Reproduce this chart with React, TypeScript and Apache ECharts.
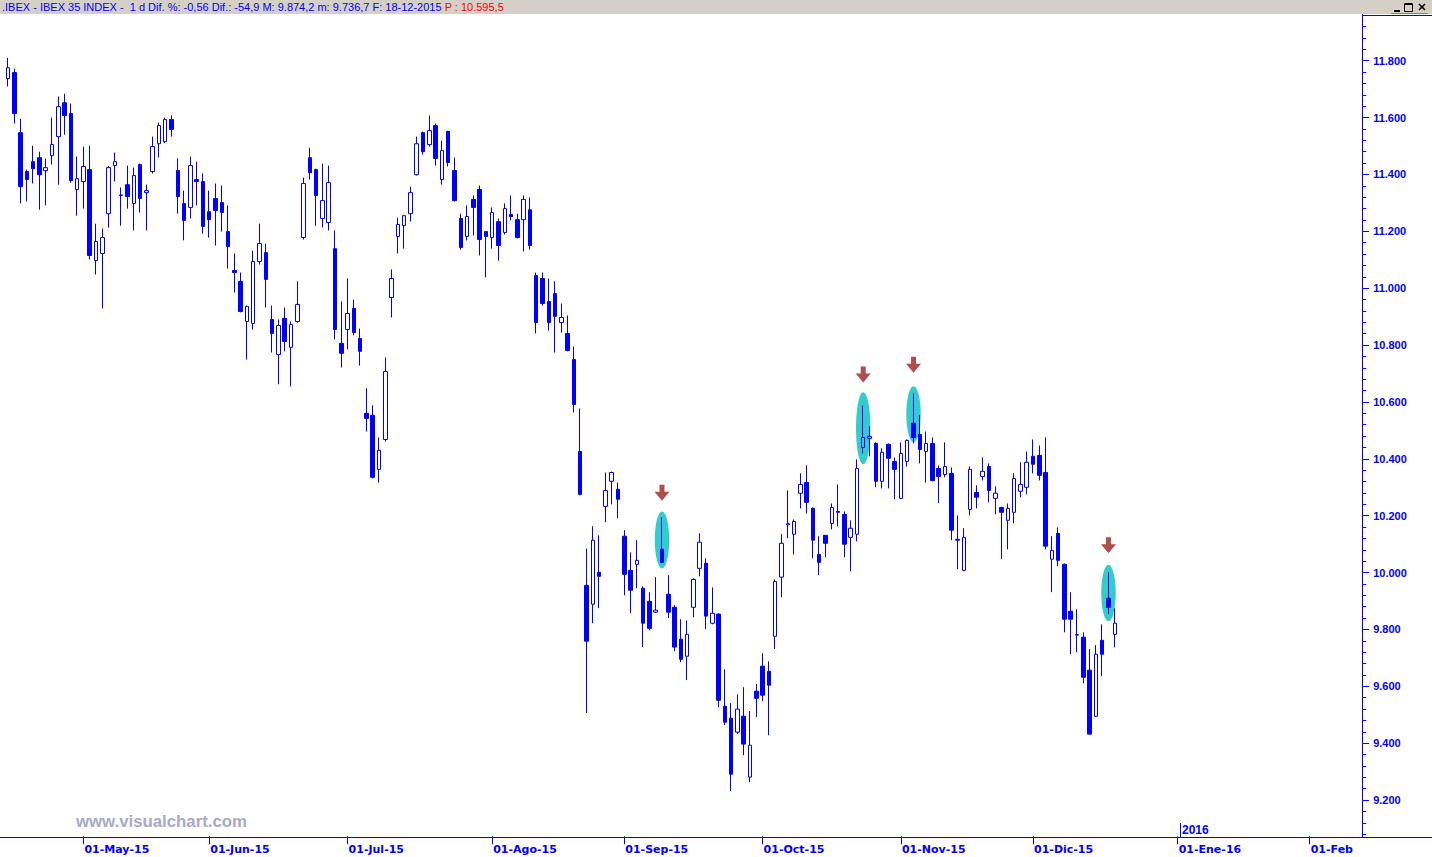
import { useEffect, useRef } from "react";
import * as echarts from "echarts";

const BLUE = "#0000FF";
const FONT = '"Liberation Sans", Arial, sans-serif';
const AXIS_FONT = '"DejaVu Sans", "Liberation Sans", Arial, sans-serif';

// Trading sessions on the axis: [year-month, days]
const SESSIONS: [string, number[]][] = [
  ["2015-04", [15, 16, 17, 20, 21, 22, 23, 24, 27, 28, 29, 30]],
  ["2015-05", [4, 5, 6, 7, 8, 11, 12, 13, 14, 15, 18, 19, 20, 21, 22, 25, 26, 27, 28, 29]],
  ["2015-06", [1, 2, 3, 4, 5, 8, 9, 10, 11, 12, 15, 16, 17, 18, 19, 22, 23, 24, 25, 26, 29, 30]],
  ["2015-07", [1, 2, 3, 6, 7, 8, 9, 10, 13, 14, 15, 16, 17, 20, 21, 22, 23, 24, 27, 28, 29, 30, 31]],
  ["2015-08", [3, 4, 5, 6, 7, 10, 11, 12, 13, 14, 17, 18, 19, 20, 21, 24, 25, 26, 27, 28, 31]],
  ["2015-09", [1, 2, 3, 4, 7, 8, 9, 10, 11, 14, 15, 16, 17, 18, 21, 22, 23, 24, 25, 28, 29, 30]],
  ["2015-10", [1, 2, 5, 6, 7, 8, 9, 12, 13, 14, 15, 16, 19, 20, 21, 22, 23, 26, 27, 28, 29, 30]],
  ["2015-11", [2, 3, 4, 5, 6, 9, 10, 11, 12, 13, 16, 17, 18, 19, 20, 23, 24, 25, 26, 27, 30]],
  ["2015-12", [1, 2, 3, 4, 7, 8, 9, 10, 11, 14, 15, 16, 17, 18, 21, 22, 23, 24, 25, 28, 29, 30, 31]],
  ["2016-01", [1, 4, 5, 6, 7, 8, 11, 12, 13, 14, 15, 18, 19, 20, 21, 22, 25, 26, 27, 28, 29]],
  ["2016-02", [1, 2, 3, 4, 5, 8, 9, 10, 11]],
];

// Month tick labels: [session, label]
const MONTH_LABELS: [string, string][] = [
  ["2015-05-04", "01-May-15"],
  ["2015-06-01", "01-Jun-15"],
  ["2015-07-01", "01-Jul-15"],
  ["2015-08-03", "01-Ago-15"],
  ["2015-09-01", "01-Sep-15"],
  ["2015-10-01", "01-Oct-15"],
  ["2015-11-02", "01-Nov-15"],
  ["2015-12-01", "01-Dic-15"],
  ["2016-01-01", "01-Ene-16"],
  ["2016-02-01", "01-Feb"],
];

// OHLC per month: [open, high, low, close]
const apr15 = [
  [11737, 11810, 11709, 11775], [11758, 11772, 11579, 11614], [11547, 11596, 11298, 11357],
  [11410, 11417, 11305, 11382], [11445, 11501, 11368, 11420], [11459, 11480, 11276, 11399],
  [11413, 11456, 11291, 11424], [11466, 11600, 11435, 11505], [11533, 11674, 11364, 11638],
  [11652, 11684, 11540, 11607], [11614, 11649, 11371, 11378], [11347, 11463, 11255, 11385],
];
const may15 = [
  [11375, 11498, 11280, 11428], [11417, 11501, 11101, 11115], [11097, 11227, 11048, 11164],
  [11122, 11210, 10929, 11178], [11262, 11430, 11213, 11424], [11431, 11477, 11375, 11445],
  [11326, 11354, 11220, 11328], [11364, 11431, 11280, 11322], [11298, 11424, 11203, 11396],
  [11435, 11438, 11266, 11315], [11336, 11364, 11203, 11343], [11410, 11533, 11403, 11498],
  [11508, 11582, 11459, 11572], [11515, 11600, 11510, 11593], [11593, 11607, 11533, 11558],
  [11414, 11456, 11262, 11322], [11298, 11343, 11168, 11238], [11284, 11463, 11245, 11431],
  [11382, 11445, 11291, 11375], [11375, 11403, 11192, 11217],
];
const jun15 = [
  [11269, 11343, 11178, 11241], [11315, 11368, 11150, 11273], [11301, 11361, 11199, 11266],
  [11199, 11291, 11069, 11146], [11062, 11122, 10985, 11055], [11024, 11055, 10915, 10918],
  [10883, 10939, 10749, 10936], [10876, 11132, 10855, 11094], [11094, 11227, 11083, 11157],
  [11125, 11157, 10932, 11031], [10890, 10939, 10774, 10841], [10767, 10890, 10662, 10869],
  [10894, 10932, 10778, 10813], [10792, 10883, 10655, 10872], [10883, 11024, 10879, 10943],
  [11178, 11389, 11171, 11368], [11459, 11494, 11382, 11406], [11417, 11420, 11220, 11326],
  [11245, 11438, 11213, 11308], [11231, 11431, 11203, 11371], [11139, 11203, 10820, 10855],
  [10806, 10953, 10721, 10771],
];
const jul15 = [
  [10855, 11034, 10785, 10911], [10929, 10960, 10834, 10844], [10823, 10858, 10728, 10778],
  [10560, 10648, 10496, 10542], [10553, 10588, 10331, 10335], [10363, 10475, 10317, 10430],
  [10468, 10756, 10461, 10707], [10967, 11066, 10897, 11034], [11182, 11248, 11122, 11224],
  [11220, 11258, 11139, 11255], [11262, 11357, 11234, 11336], [11399, 11533, 11396, 11508],
  [11547, 11551, 11470, 11480], [11505, 11607, 11498, 11554], [11572, 11579, 11431, 11456],
  [11382, 11519, 11364, 11484], [11551, 11554, 11428, 11442], [11414, 11459, 11305, 11308],
  [11245, 11262, 11136, 11143], [11182, 11291, 11168, 11252], [11312, 11326, 11185, 11284],
  [11347, 11361, 11115, 11171], [11199, 11199, 11038, 11182],
];
const aug15 = [
  [11178, 11284, 11139, 11266], [11234, 11245, 11097, 11150], [11196, 11298, 11189, 11280],
  [11259, 11326, 11238, 11252], [11241, 11262, 11175, 11178], [11241, 11326, 11129, 11312],
  [11276, 11319, 11136, 11150], [11045, 11055, 10841, 10879], [11034, 11055, 10939, 10946],
  [10953, 11034, 10851, 10879], [10981, 11024, 10774, 10901], [10879, 10946, 10844, 10897],
  [10841, 10904, 10778, 10781], [10749, 10795, 10563, 10591], [10426, 10577, 10272, 10275],
  [9955, 10085, 9506, 9759], [9889, 10163, 9822, 10114], [10001, 10131, 9875, 9987],
  [10233, 10352, 10177, 10289], [10321, 10355, 10240, 10352], [10293, 10317, 10191, 10258],
];
const sep15 = [
  [10128, 10149, 9920, 9994], [10008, 10071, 9857, 9938], [10029, 10114, 9945, 10043],
  [9945, 9952, 9738, 9822], [9899, 9931, 9797, 9804], [9861, 9984, 9858, 9868],
  [10082, 10194, 10033, 10036], [9924, 9991, 9840, 9861], [9878, 9885, 9724, 9738],
  [9766, 9836, 9685, 9695], [9706, 9832, 9622, 9783], [9878, 9980, 9843, 9976],
  [10015, 10138, 9987, 10107], [10033, 10050, 9801, 9847], [9822, 9948, 9818, 9857],
  [9854, 9857, 9527, 9551], [9530, 9660, 9464, 9474], [9488, 9541, 9232, 9291],
  [9439, 9572, 9432, 9520], [9495, 9597, 9358, 9397], [9281, 9513, 9263, 9393],
  [9583, 9608, 9492, 9558],
];
const oct15 = [
  [9671, 9716, 9548, 9569], [9653, 9688, 9428, 9604], [9776, 9976, 9731, 9969],
  [9984, 10135, 9913, 10103], [10168, 10289, 10121, 10172], [10135, 10187, 10064, 10180],
  [10279, 10349, 10226, 10310], [10317, 10377, 10208, 10247], [10226, 10229, 10050, 10114],
  [10064, 10128, 9991, 10036], [10131, 10131, 10054, 10103], [10173, 10243, 10152, 10229],
  [10215, 10310, 10163, 10212], [10205, 10215, 10054, 10100], [10124, 10184, 10005, 10156],
  [10135, 10398, 10110, 10366], [10440, 10588, 10419, 10475], [10472, 10514, 10409, 10479],
  [10454, 10458, 10300, 10321], [10321, 10437, 10296, 10423], [10451, 10454, 10296, 10402],
  [10391, 10405, 10258, 10363],
];
const nov15 = [
  [10261, 10458, 10258, 10419], [10391, 10468, 10373, 10465], [10525, 10630, 10454, 10475],
  [10486, 10553, 10384, 10433], [10426, 10496, 10317, 10454], [10454, 10475, 10321, 10324],
  [10366, 10377, 10244, 10338], [10345, 10458, 10335, 10373], [10349, 10370, 10114, 10149],
  [10117, 10201, 10012, 10114], [10008, 10156, 10005, 10124], [10222, 10373, 10201, 10363],
  [10282, 10307, 10226, 10265], [10338, 10405, 10324, 10356], [10373, 10384, 10247, 10289],
  [10261, 10303, 10205, 10279], [10229, 10232, 10047, 10212], [10184, 10243, 10082, 10226],
  [10212, 10349, 10173, 10331], [10286, 10388, 10265, 10310], [10300, 10426, 10275, 10388],
];
const dec15 = [
  [10409, 10468, 10349, 10381], [10412, 10447, 10324, 10342], [10352, 10475, 10082, 10093],
  [10047, 10128, 9931, 10078], [10138, 10159, 10022, 10043], [10029, 10032, 9790, 9836],
  [9864, 9931, 9713, 9836], [9780, 9871, 9720, 9782], [9773, 9790, 9611, 9632],
  [9657, 9731, 9432, 9432], [9495, 9745, 9492, 9713], [9762, 9818, 9636, 9713],
  [9910, 10001, 9854, 9878], [9783, 9874, 9737, 9822],
];

// Highlighted candles: [session, ellipse top, ellipse bottom]
const HIGHLIGHTS: [string, number, number][] = [
  ["2015-09-09", 10215, 10015],
  ["2015-10-23", 10634, 10381],
  ["2015-11-04", 10655, 10458],
  ["2015-12-17", 10028, 9829],
];
// Down arrows: [session, arrow tip value]
const ARROWS: [string, number][] = [
  ["2015-09-09", 10253],
  ["2015-10-23", 10668],
  ["2015-11-04", 10703],
  ["2015-12-17", 10068],
];

const Y_MIN = 9000;
const Y_MAX = 12000;
const Y_STEP = 200;

const TITLE_LEFT = ".IBEX - IBEX 35 INDEX -  1 d Dif. %: -0,56 Dif.: -54,9 M: 9.874,2 m: 9.736,7 F: 18-12-2015";
const TITLE_RIGHT = "P : 10.595,5";
const WATERMARK = "www.visualchart.com";
const YEAR_MARK: [string, string] = ["2016-01-01", "2016"];

export default function App() {
  const ref = useRef<HTMLDivElement>(null);

  useEffect(() => {
    const chart = echarts.init(ref.current!, null, { renderer: "svg" });
    const categories = SESSIONS.flatMap(([ym, days]) =>
      days.map((d) => `${ym}-${String(d).padStart(2, "0")}`)
    );
    const ohlc = [...apr15, ...may15, ...jun15, ...jul15, ...aug15, ...sep15, ...oct15, ...nov15, ...dec15];
    const candleData = ohlc.map(([o, h, l, c]) => [o, c, l, h]);
    const labelMap = new Map(MONTH_LABELS);

    chart.setOption({
      animation: false,
      backgroundColor: "#FFFFFF",
      grid: { left: 4.85, width: 1358.3, top: 3.8, height: 853.9 },
      xAxis: {
        type: "category",
        data: categories,
        boundaryGap: true,
        offset: -20.7,
        axisLine: { show: false },
        axisTick: {
          show: true,
          alignWithLabel: true,
          interval: (_i: number, v: string) => labelMap.has(v),
          length: 8,
          lineStyle: { color: BLUE, width: 1 },
        },
        axisLabel: {
          interval: (_i: number, v: string) => labelMap.has(v),
          formatter: (v: string) => labelMap.get(v) ?? "",
          align: "left",
          color: BLUE,
          fontWeight: "bold",
          fontSize: 11,
          fontFamily: AXIS_FONT,
          margin: 8,
          padding: [0, 0, 0, 1],
          hideOverlap: false,
        },
        splitLine: { show: false },
      },
      yAxis: {
        type: "value",
        position: "right",
        min: Y_MIN,
        max: Y_MAX,
        interval: Y_STEP,
        scale: true,
        axisLine: { show: false },
        axisTick: { show: true, length: 6, lineStyle: { color: BLUE, width: 1 } },
        minorTick: { show: true, splitNumber: 5, length: 3, lineStyle: { color: BLUE, width: 1 } },
        splitLine: { show: false },
        minorSplitLine: { show: false },
        axisLabel: {
          color: BLUE,
          fontWeight: "bold",
          fontSize: 11,
          fontFamily: FONT,
          margin: 10,
          showMinLabel: false,
          showMaxLabel: false,
          formatter: (v: number) => {
            if (v <= Y_MIN || v >= Y_MAX) return "";
            const s = String(v);
            return s.slice(0, -3) + "." + s.slice(-3);
          },
        },
      },
      series: [
        {
          type: "custom",
          name: "highlight",
          z: 1,
          silent: true,
          encode: { x: 0, y: [1, 2] },
          data: HIGHLIGHTS,
          renderItem: (_p: any, api: any) => {
            const top = api.coord([api.value(0), api.value(1)]);
            const bot = api.coord([api.value(0), api.value(2)]);
            return {
              type: "ellipse",
              shape: { cx: top[0], cy: (top[1] + bot[1]) / 2, rx: 7.2, ry: (bot[1] - top[1]) / 2 },
              style: { fill: "#33CCCC" },
            };
          },
        },
        {
          type: "candlestick",
          name: "IBEX 35",
          z: 2,
          barWidth: 4,
          data: candleData,
          itemStyle: {
            color: "transparent",
            color0: BLUE,
            borderColor: BLUE,
            borderColor0: BLUE,
            borderColorDoji: BLUE,
            borderWidth: 1,
          },
        },
        {
          type: "custom",
          name: "arrows",
          z: 3,
          silent: true,
          encode: { x: 0, y: 1 },
          data: ARROWS,
          renderItem: (_p: any, api: any) => {
            const [x, y] = api.coord([api.value(0), api.value(1)]);
            return {
              type: "polygon",
              shape: {
                points: [
                  [x - 2.5, y - 16], [x + 2.5, y - 16], [x + 2.5, y - 9], [x + 7.5, y - 9],
                  [x, y], [x - 7.5, y - 9], [x - 2.5, y - 9],
                ],
              },
              style: { fill: "#B04E4E" },
            };
          },
        },
      ],
    });

    const yearPx = chart.convertToPixel({ gridIndex: 0 }, [YEAR_MARK[0], 10000]) as number[];
    const yx = Math.round(yearPx[0]) + 2.5;

    chart.setOption({
      graphic: [
        { type: "rect", z: 100, silent: true, shape: { x: 0, y: 0, width: 1432, height: 14 }, style: { fill: "#D4D0C8" } },
        {
          type: "text", z: 101, silent: true, x: 2, y: 7,
          style: {
            text: `{a|${TITLE_LEFT} }{b|${TITLE_RIGHT}}`,
            fontSize: 11, fontFamily: FONT, verticalAlign: "middle",
            rich: {
              a: { fill: BLUE, fontSize: 11, fontFamily: FONT },
              b: { fill: "#FF0000", fontSize: 11, fontFamily: FONT },
            },
          },
        },
        // window buttons
        { type: "rect", z: 101, silent: true, shape: { x: 1394, y: 10, width: 6, height: 2 }, style: { fill: "#000000" } },
        { type: "rect", z: 101, silent: true, shape: { x: 1404.5, y: 3.5, width: 8, height: 8 }, style: { fill: "none", stroke: "#000000", lineWidth: 1 } },
        { type: "line", z: 101, silent: true, shape: { x1: 1404.5, y1: 4.5, x2: 1412.5, y2: 4.5 }, style: { stroke: "#000000", lineWidth: 1 } },
        { type: "line", z: 101, silent: true, shape: { x1: 1419, y1: 4, x2: 1425, y2: 10 }, style: { stroke: "#000000", lineWidth: 1.6 } },
        { type: "line", z: 101, silent: true, shape: { x1: 1425, y1: 4, x2: 1419, y2: 10 }, style: { stroke: "#000000", lineWidth: 1.6 } },
        { type: "line", z: 101, silent: true, shape: { x1: 1391, y1: 13.5, x2: 1428, y2: 13.5 }, style: { stroke: "#808080", lineWidth: 1 } },
        // frame lines
        { type: "rect", z: 100, silent: true, shape: { x: 1363, y: 838, width: 69, height: 19 }, style: { fill: "#FFFFFF" } },
        { type: "line", z: 101, silent: true, shape: { x1: 0, y1: 837.5, x2: 1432, y2: 837.5 }, style: { stroke: BLUE, lineWidth: 1 } },
        { type: "line", z: 101, silent: true, shape: { x1: 1362.5, y1: 14, x2: 1362.5, y2: 837.5 }, style: { stroke: BLUE, lineWidth: 1 } },
        { type: "line", z: 101, silent: true, shape: { x1: 1362.5, y1: 15.5, x2: 1432, y2: 15.5 }, style: { stroke: BLUE, lineWidth: 1 } },
        // watermark
        { type: "text", z: 50, silent: true, x: 76, y: 821, style: { text: WATERMARK, fill: "#A9A9C8", fontSize: 16.8, fontWeight: "bold", fontFamily: FONT, verticalAlign: "middle" } },
        // year marker
        { type: "line", z: 101, silent: true, shape: { x1: yx, y1: 823, x2: yx, y2: 837 }, style: { stroke: BLUE, lineWidth: 1 } },
        { type: "text", z: 101, silent: true, x: yx + 1.5, y: 830, style: { text: YEAR_MARK[1], fill: BLUE, fontSize: 12, fontWeight: "bold", fontFamily: FONT, verticalAlign: "middle" } },
      ],
    });

    return () => chart.dispose();
  }, []);

  return (
    <div
      ref={ref}
      style={{ position: "absolute", left: 0, top: 0, width: 1432, height: 857, background: "#FFFFFF" }}
    />
  );
}
